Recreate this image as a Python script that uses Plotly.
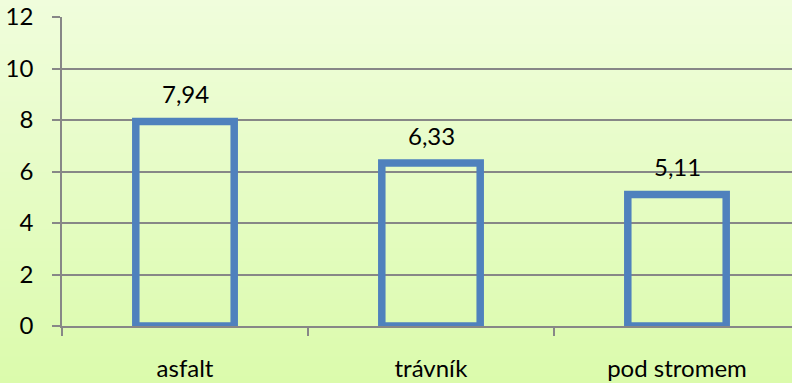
import plotly.graph_objects as go

categories = ["asfalt", "trávník", "pod stromem"]
values = [7.94, 6.33, 5.11]
y_ticks = [0, 2, 4, 6, 8, 10, 12]

W, H = 792, 383
ML, MR, MT, MB = 62, 0, 17, 57
FONT = "Lato"
FS = 24
GRID = "#878787"
BAR = "#4F81BD"

fig = go.Figure()
fig.add_trace(go.Bar(
    x=categories, y=values, width=0.4,
    marker=dict(color="rgba(0,0,0,0)", line=dict(color=BAR, width=7.5)),
    hoverinfo="skip",
))

for c, v in zip(categories, values):
    fig.add_annotation(x=c, y=v, text=f"{v:.2f}".replace(".", ","),
                       showarrow=False, yanchor="middle", yshift=28,
                       font=dict(family=FONT, size=FS, color="#000000"))

# vertical gradient background
top = (240, 253, 220)
bot = (219, 251, 172)
ph = H - MT - MB
y_top = 1 + MT / ph
y_bot = -MB / ph
n = 60
for i in range(n):
    t = (i + 0.5) / n
    col = tuple(round(top[k] + (bot[k] - top[k]) * t) for k in range(3))
    y1 = y_top - (y_top - y_bot) * i / n
    y0 = y_top - (y_top - y_bot) * (i + 1) / n
    fig.add_shape(type="rect", xref="paper", yref="paper",
                  x0=-0.2, x1=1.1, y0=y0 - 0.002, y1=y1 + 0.002,
                  fillcolor="rgb(%d,%d,%d)" % col, line=dict(width=0),
                  layer="below")

fig.update_layout(
    width=W, height=H,
    margin=dict(l=ML, r=MR, t=MT, b=MB),
    paper_bgcolor="rgb(230,252,196)",
    plot_bgcolor="rgba(0,0,0,0)",
    showlegend=False,
    font=dict(family=FONT, size=FS, color="#000000"),
    xaxis=dict(
        range=[-0.5, -0.5 + (W - ML - MR) / 246.0],
        showgrid=False, showline=True, linecolor=GRID, linewidth=1.5,
        ticks="outside", tickson="boundaries", ticklen=8, tickwidth=1.5,
        tickcolor=GRID, ticklabelstandoff=20, layer="below traces",
        fixedrange=True,
    ),
    yaxis=dict(
        range=[0, 12], tickvals=y_ticks,
        showgrid=True, gridcolor=GRID, gridwidth=1.5,
        zeroline=False, showline=True, linecolor=GRID, linewidth=1.5,
        ticks="outside", ticklen=8, tickwidth=1.5, tickcolor=GRID,
        ticklabelstandoff=14, layer="below traces", fixedrange=True,
    ),
)

fig.write_html("out.html")
